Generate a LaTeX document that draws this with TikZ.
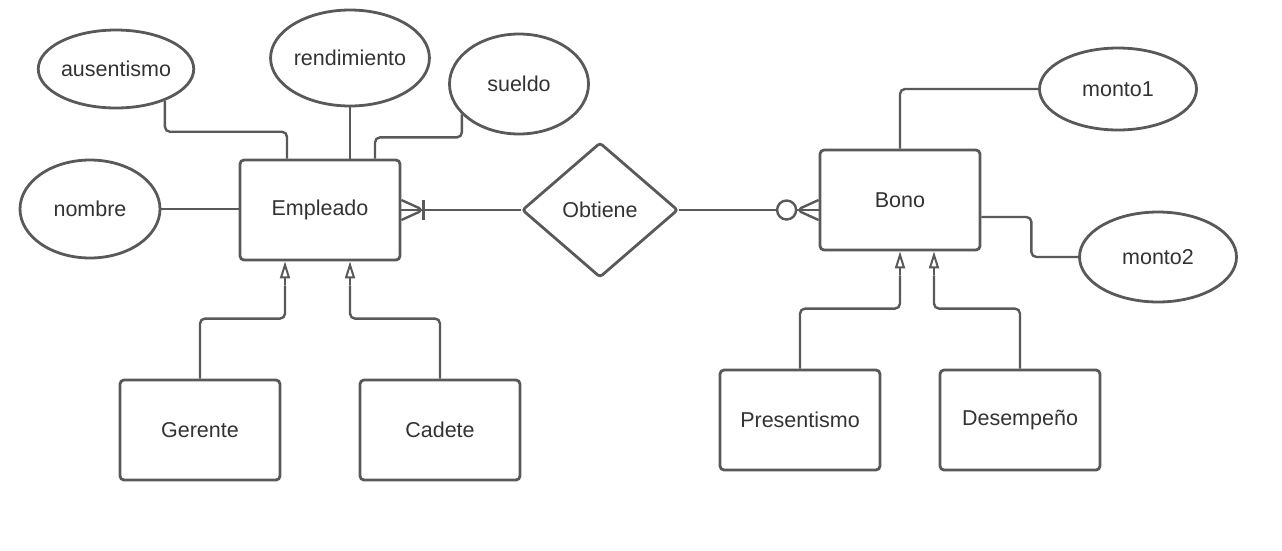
\documentclass[tikz,border=0pt]{standalone}
\usepackage{fontspec}
\setmainfont{Liberation Sans}
\usetikzlibrary{shapes.geometric,arrows.meta}
\definecolor{linegray}{HTML}{595959}
\definecolor{textgray}{HTML}{333333}
\begin{document}
\begin{tikzpicture}[x=1pt, y=-1pt, node distance={240pt},
  every node/.style = {text=textgray, font=\fontsize{21.5}{25}\selectfont},
  entity/.style = {draw=linegray, line width=2.8pt, rounded corners=4pt, fill=white, minimum width=160pt, minimum height=100pt},
  attr/.style = {draw=linegray, line width=2.8pt, ellipse, fill=white, inner sep=0pt},
  rel/.style = {draw=linegray, line width=2.8pt, diamond, rounded corners=3pt, fill=white, inner sep=0pt, minimum width=156pt, minimum height=135pt},
  conn/.style = {draw=linegray, line width=2.4pt, rounded corners=5pt},
  isa/.style = {draw=linegray, line width=2.4pt, -{Triangle[open, length=17pt, width=10pt, line width=2pt]}}]
\useasboundingbox (0,0) rectangle (1282,550);
\node[entity] (emp) at (320,210) {Empleado};
\node[rel] (obt) at (600,210) {Obtiene};
\node[entity] (bono) at (900,200) {Bono};
\node[attr, minimum width=152pt, minimum height=78pt] (aus) at (116,69) {ausentismo};
\node[attr, minimum width=140pt, minimum height=96pt] (rend) at (350,58) {rendimiento};
\node[attr, minimum width=139pt, minimum height=100pt] (sue) at (519,84) {sueldo};
\node[attr, minimum width=140pt, minimum height=98pt] (nom) at (90,209) {nombre};
\node[attr, minimum width=157pt, minimum height=82pt] (m1) at (1118,89) {monto1};
\node[attr, minimum width=157pt, minimum height=90pt] (m2) at (1158,257) {monto2};
\node[entity] (ger) at (200,430) {Gerente};
\node[entity] (cad) [right of=ger] {Cadete};
\node[entity] (pre) at (800,420) {Presentismo};
\node[entity] (des) [right of=pre, node distance=220pt] {Desempeño};
\draw[conn] (aus.-33) -- ++(0,31) -| ([xshift=-33pt]emp.north);
\draw[conn] (rend.south) -- (rend.south |- emp.north);
\draw[conn] (sue.-152) -- ++(0,23) -| ([xshift=55pt]emp.north);
\draw[conn] (nom.east) -- (nom.east -| emp.west);
\draw[conn] (emp.east) -- (obt.west);
\draw[conn] ([yshift=10pt]emp.east) -- ([xshift=22pt]emp.east) -- ([yshift=-10pt]emp.east);
\draw[conn] ([xshift=22pt, yshift=10pt]emp.east) -- ([xshift=22pt, yshift=-10pt]emp.east);
\draw[conn] (obt.east) -- (obt.east -| bono.west);
\draw[linegray, line width=2.4pt, fill=white] ([xshift=-32pt]obt.east -| bono.west) circle (9.5pt);
\draw[conn] ([yshift=10pt]obt.east -| bono.west) -- ([xshift=-22pt]obt.east -| bono.west) -- ([yshift=-10pt]obt.east -| bono.west);
\draw[conn] (bono.north) |- (m1.west);
\draw[conn] ([yshift=-17pt]bono.east) -- ++(50,0) |- (m2.west);
\draw[conn] (ger.north) -- ++(0,-60) -| ([xshift=-35pt,yshift=-24pt]emp.south);
\draw[isa] ([xshift=-35pt,yshift=-24pt]emp.south) -- ([xshift=-35pt]emp.south);
\draw[conn] (cad.north) -- ++(0,-60) -| ([xshift=30pt,yshift=-24pt]emp.south);
\draw[isa] ([xshift=30pt,yshift=-24pt]emp.south) -- ([xshift=30pt]emp.south);
\draw[conn] (pre.north) -- ++(0,-60) -| ([yshift=-24pt]bono.south);
\draw[isa] ([yshift=-24pt]bono.south) -- (bono.south);
\draw[conn] (des.north) -- ++(0,-60) -| ([xshift=34pt,yshift=-24pt]bono.south);
\draw[isa] ([xshift=34pt,yshift=-24pt]bono.south) -- ([xshift=34pt]bono.south);
\end{tikzpicture}
\end{document}
